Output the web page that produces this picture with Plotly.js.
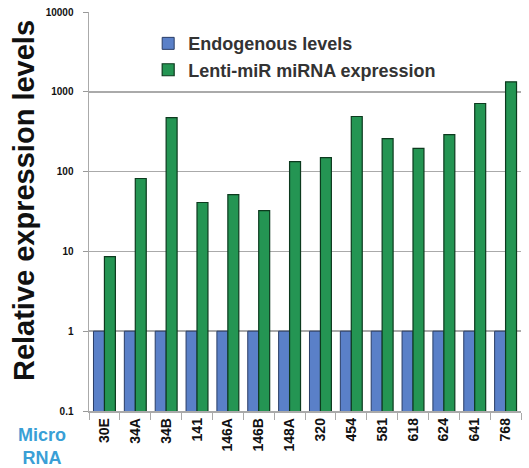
<!DOCTYPE html>
<html>
<head>
<meta charset="utf-8">
<script src="https://cdn.plot.ly/plotly-3.0.1.min.js"></script>
<style>html,body{margin:0;padding:0;background:#fff;}#chart{width:529px;height:468px;}</style>
</head>
<body>
<div id="chart"></div>
<script>
var categories = ["30E","34A","34B","141","146A","146B","148A","320","454","581","618","624","641","768"];
var endogenous = [1,1,1,1,1,1,1,1,1,1,1,1,1,1];
var lentiMiR = [8.6,82,475,41,51.5,32.4,133,150,490,259,195,291,713,1334];
var yTickVals = [0.1,1,10,100,1000,10000];
var yTickText = ["0.1","1","10","100","1000","10000"];
var seriesNames = ["Endogenous levels","Lenti-miR miRNA expression"];

var font = "Liberation Sans, Arial, sans-serif";
var traces = [
  {type:"bar", name:seriesNames[0], x:categories, y:endogenous,
   marker:{color:"#5a80c8", line:{color:"#2a3d66", width:1}}},
  {type:"bar", name:seriesNames[1], x:categories, y:lentiMiR,
   marker:{color:"#249553", line:{color:"#0c3a1e", width:1.2}}}
];
var layout = {
  width:529, height:468,
  margin:{l:89, r:8, t:12, b:57},
  paper_bgcolor:"#fff", plot_bgcolor:"#fff",
  barmode:"group", bargap:0.29, bargroupgap:0,
  showlegend:true,
  legend:{x:0.137, y:0.967, xanchor:"left", yanchor:"top", bgcolor:"rgba(0,0,0,0)",
          font:{family:font, size:18, color:"#333", weight:"bold"}, tracegroupgap:0, itemwidth:30},
  xaxis:{type:"category", tickangle:-90, ticks:"outside", tickson:"boundaries",
         ticklen:7, tickcolor:"#aaa", showline:true, linecolor:"#aaa", linewidth:1.5,
         tickfont:{family:font, size:14, color:"#111", weight:"bold"}, showgrid:false},
  yaxis:{type:"log", range:[-1,4], tickvals:yTickVals, ticktext:yTickText,
         ticks:"outside", ticklen:5, tickcolor:"#999", showline:true, linecolor:"#aaa", linewidth:1.5,
         gridcolor:"#aaa", gridwidth:1.5, zeroline:false, ticklabelstandoff:7,
         tickfont:{family:font, size:10, color:"#111", weight:"bold"}},
  annotations:[
    {text:"<b>Relative expression levels</b>", xref:"paper", yref:"paper", x:-0.152, y:0.527,
     xanchor:"center", yanchor:"middle", textangle:-90, showarrow:false,
     font:{family:font, size:29, color:"#111"}},
    {text:"<b>Micro<br>RNA</b>", xref:"paper", yref:"paper", x:-0.109, y:-0.09,
     xanchor:"center", yanchor:"middle", showarrow:false, align:"center",
     font:{family:font, size:18, color:"#3a9fd6"}}
  ]
};
Plotly.newPlot("chart", traces, layout, {displayModeBar:false, staticPlot:true});
</script>
</body>
</html>
